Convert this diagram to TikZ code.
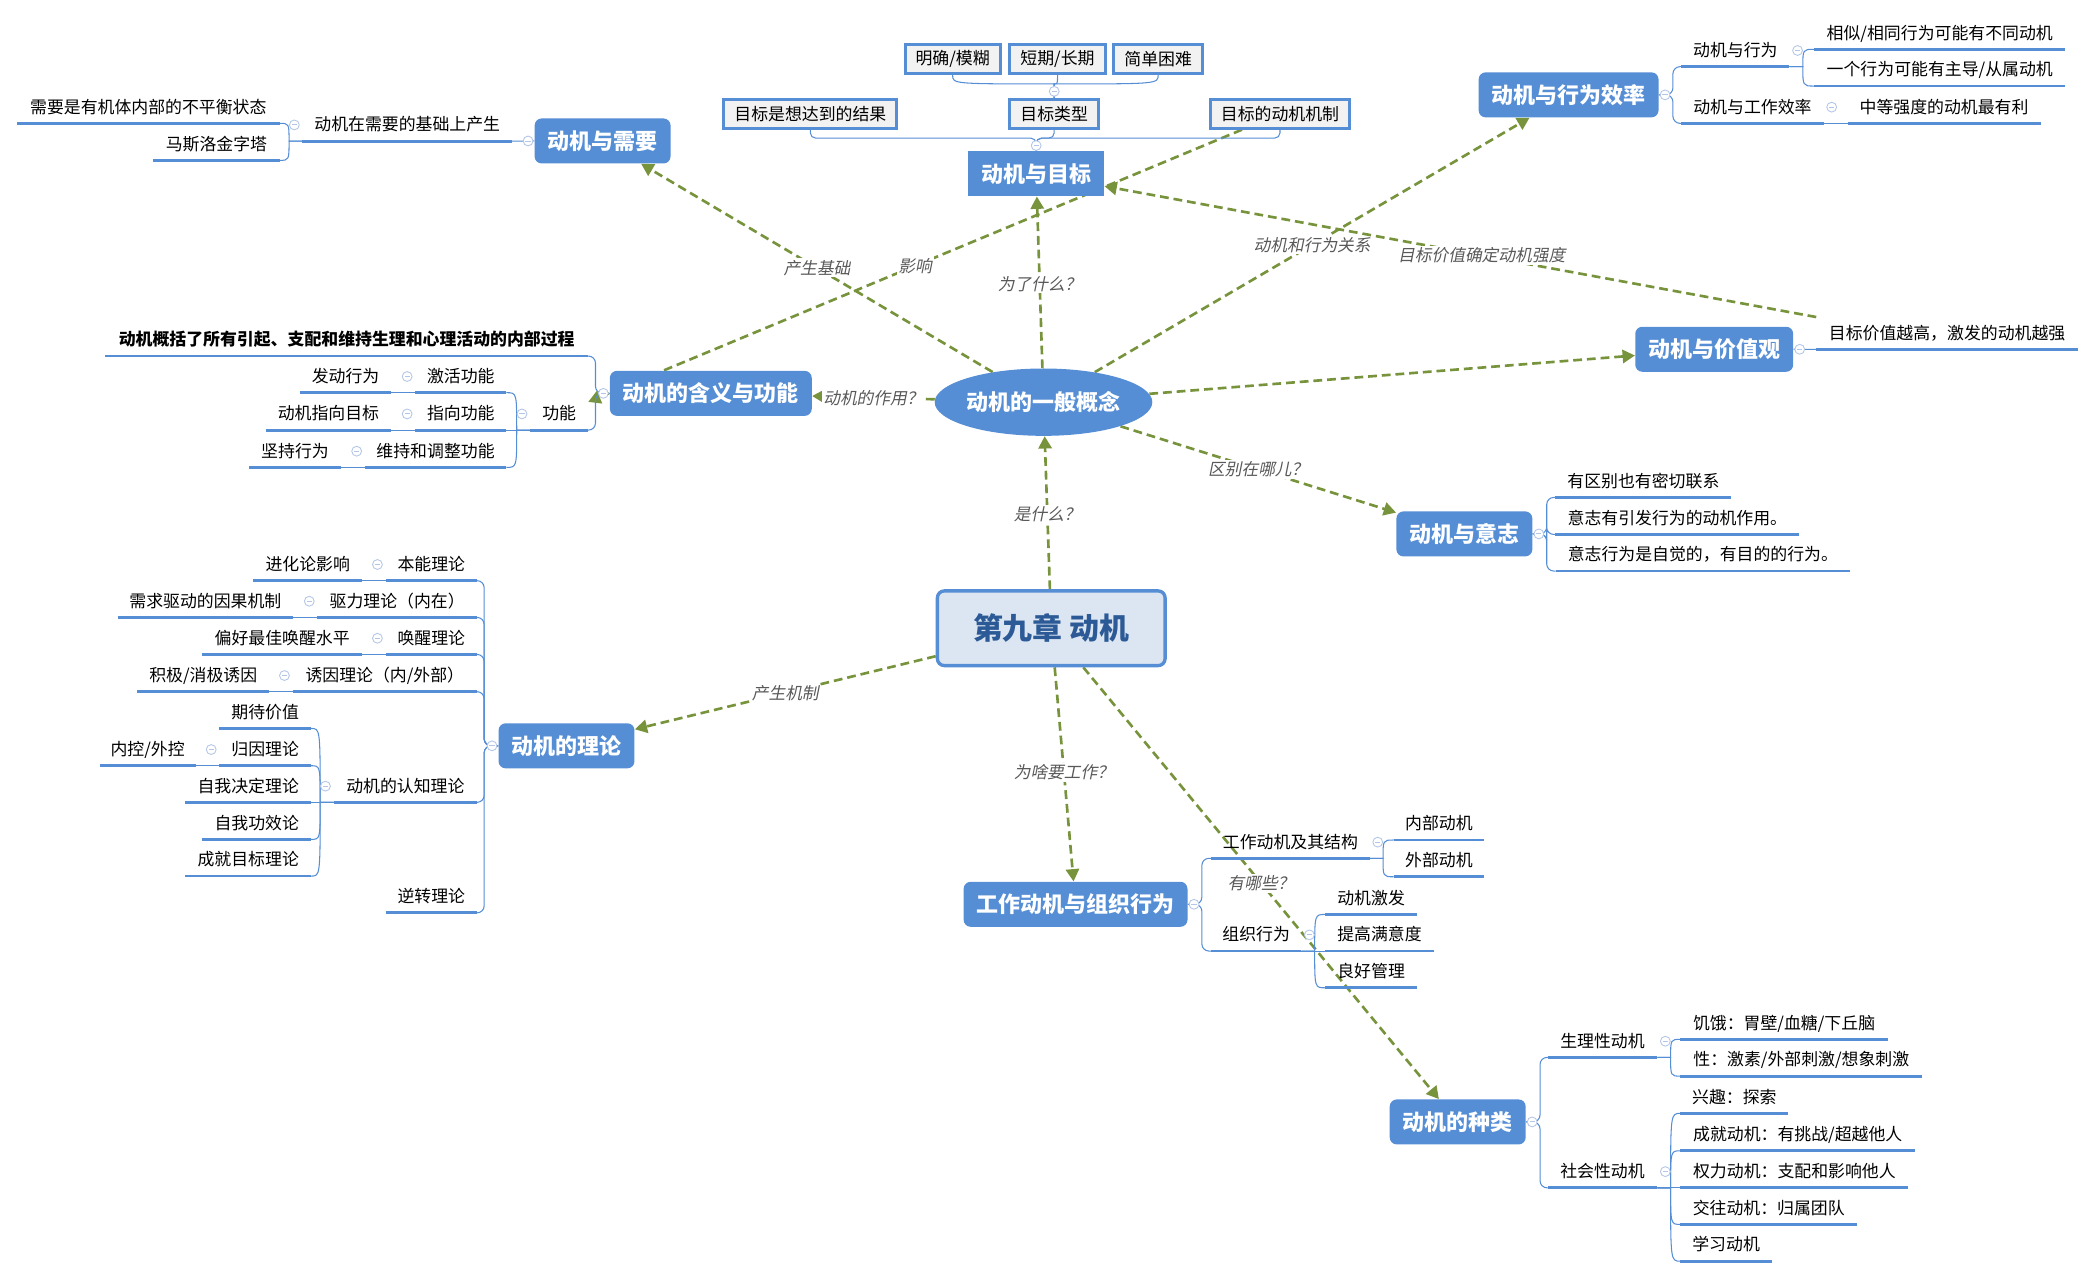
\documentclass[tikz,border=0pt]{standalone}
\usepackage{fontspec}
\setmainfont{Noto Sans CJK SC}
\newfontfamily\lblfont[FakeSlant=0.2]{Noto Sans CJK SC}
\usepackage{tikz}
\usetikzlibrary{arrows.meta,shapes.geometric,backgrounds}
\definecolor{topicblue}{HTML}{558ED5}
\definecolor{titlefill}{HTML}{DCE6F2}
\definecolor{titletext}{HTML}{2C5A96}
\definecolor{linkgreen}{HTML}{77933C}
\definecolor{lblgray}{HTML}{595959}
\definecolor{boxgray}{HTML}{F2F2F2}
\definecolor{foldblue}{HTML}{B4C6E7}
\tikzset{
  rootbox/.style = {rectangle,rounded corners=4pt,draw=topicblue,line width=1.9pt,fill=titlefill,
                    text=titletext,font=\fontsize{17}{20}\selectfont\bfseries,
                    minimum width=129.5pt,minimum height=42.5pt},
  genell/.style  = {ellipse,fill=topicblue,text=white,font=\fontsize{12.5}{15}\selectfont\bfseries,
                    minimum width=109pt,minimum height=38.3pt,inner sep=0pt},
  topic/.style   = {rectangle,rounded corners=4pt,fill=topicblue,text=white,
                    font=\fontsize{12.5}{15}\selectfont\bfseries,
                    minimum height=25.6pt,inner xsep=7.4pt,inner ysep=2pt},
  tbox/.style    = {rectangle,draw=topicblue,line width=1.7pt,fill=boxgray,
                    font=\fontsize{9.6}{11}\selectfont,inner xsep=6pt,minimum height=16.3pt},
  uline/.style   = {draw=topicblue,line width=1.6pt},
  leaf/.style    = {anchor=south,inner xsep=0pt,inner ysep=4.4pt,text height=8pt,text depth=1.2pt,
                    font=\fontsize{9.6}{11}\selectfont,
                    append after command={(\tikzlastnode.south west) edge[uline] (\tikzlastnode.south east)}},
  ulw/.style     = {minimum width=#1*0.7597pt},
  twig/.style    = {draw=topicblue,line width=0.6pt},
  fold/.style    = {circle,draw=foldblue,fill=white,line width=0.5pt,minimum size=5.6pt,inner sep=0pt,
                    path picture={\draw[foldblue,line width=0.5pt]
                      ([xshift=-1.5pt]path picture bounding box.center) -- ([xshift=1.5pt]path picture bounding box.center);}},
  relarr/.style  = {draw=linkgreen,line width=1.5pt,dash pattern=on 5pt off 2.8pt,
                    -{Triangle[length=7pt,width=7.5pt]}},
  lbl/.style     = {font=\lblfont\fontsize{9.5}{11}\selectfont,text=lblgray,fill=white,inner sep=1pt}
}

\begin{document}
\begin{tikzpicture}[x=0.0267cm,y=-0.0267cm]
  \useasboundingbox (0,0) rectangle (1568,957);
  % centre
  \node[rootbox] (root) at (786.8,470.2) {第九章 动机};
  \node[genell]  (gen)  at (781,301) {动机的一般概念};
  % main topics
  \node[topic] (need)   at (451,105.5) {动机与需要};
  \node[topic,sharp corners] (goal) at (775.5,130) {动机与目标};
  \node[topic] (eff)    at (1174,71) {动机与行为效率};
  \node[topic] (mean)   at (532,294.4) {动机的含义与功能};
  \node[topic] (value)  at (1283,261.4) {动机与价值观};
  \node[topic] (will)   at (1096,399.6) {动机与意志};
  \node[topic] (theory) at (424,558.2) {动机的理论};
  \node[topic] (work)   at (805,676.8) {工作动机与组织行为};
  \node[topic] (kind)   at (1091,839.7) {动机的种类};
  % goal boxes
  \node[tbox] (g1)  at (606.5,85.2) {目标是想达到的结果};
  \node[tbox] (g2)  at (789,85.2) {目标类型};
  \node[tbox] (g3)  at (958,85.2) {目标的动机机制};
  \node[tbox] (g21) at (713,44.3) {明确/模糊};
  \node[tbox] (g22) at (791.5,44.3) {短期/长期};
  \node[tbox] (g23) at (866.8,44.3) {简单困难};
  % need
  \node[leaf,ulw=156.4] (need1)  at (304.8,105.6) {动机在需要的基础上产生};
  \node[leaf,ulw=196]   (need11) at (111,92.3) {需要是有机体内部的不平衡状态};
  \node[leaf,ulw=94]    (need12) at (162,120) {马斯洛金字塔};
  % efficiency
  \node[leaf,ulw=80.5]  (eff1)  at (1298.8,49.9) {动机与行为};
  \node[leaf,ulw=187.5] (eff11) at (1451.8,36.9) {相似/相同行为可能有不同动机};
  \node[leaf,ulw=187.5] (eff12) at (1451.8,64.4) {一个行为可能有主导/从属动机};
  \node[leaf,ulw=106]   (eff2)  at (1311.6,92.3) {动机与工作效率};
  \node[leaf,ulw=144]   (eff21) at (1455,92.3) {中等强度的动机最有利};
  % meaning
  \node[leaf,ulw=361,font=\fontsize{9.6}{11}\selectfont\bfseries] (mean1) at (259.5,266.5)
    {动机概括了所有引起、支配和维持生理和心理活动的内部过程};
  \node[leaf,ulw=43]    (mean2)   at (418.5,321.9) {功能};
  \node[leaf,ulw=67.7]  (mean21)  at (344.9,293.9) {激活功能};
  \node[leaf,ulw=67.7]  (mean22)  at (344.9,321.9) {指向功能};
  \node[leaf,ulw=105.5] (mean23)  at (326,349.8) {维持和调整功能};
  \node[leaf,ulw=67.7]  (mean211) at (258.6,293.9) {发动行为};
  \node[leaf,ulw=93.2]  (mean221) at (245.8,321.9) {动机指向目标};
  \node[leaf,ulw=67.7]  (mean231) at (220.8,349.8) {坚持行为};
  % value, will
  \node[leaf,ulw=195.4] (value1) at (1457.3,261.5) {目标价值越高，激发的动机越强};
  \node[leaf,ulw=131.3] (will1)  at (1230,372.3) {有区别也有密切联系};
  \node[leaf,ulw=181.9] (will2)  at (1255.4,400) {意志有引发行为的动机作用。};
  \node[leaf,ulw=220.1] (will3)  at (1274.5,427.4) {意志行为是自觉的，有目的的行为。};
  % theory
  \node[leaf,ulw=68]    (th1)   at (322.8,434.6) {本能理论};
  \node[leaf,ulw=81]    (th11)  at (230.3,434.6) {进化论影响};
  \node[leaf,ulw=119]   (th2)   at (297.3,462.1) {驱力理论（内在）};
  \node[leaf,ulw=131]   (th21)  at (153.7,462.1) {需求驱动的因果机制};
  \node[leaf,ulw=68]    (th3)   at (322.8,489.8) {唤醒理论};
  \node[leaf,ulw=119]   (th31)  at (211.2,489.8) {偏好最佳唤醒水平};
  \node[leaf,ulw=137.6] (th4)   at (288,517.7) {诱因理论（内/外部）};
  \node[leaf,ulw=98.4]  (th41)  at (152.1,517.7) {积极/消极诱因};
  \node[leaf,ulw=107]   (th5)   at (303.4,600.5) {动机的认知理论};
  \node[leaf,ulw=68.2]  (th51)  at (198.5,545.2) {期待价值};
  \node[leaf,ulw=68.2]  (th52)  at (198.5,573.1) {归因理论};
  \node[leaf,ulw=71.3]  (th521) at (110.5,573.1) {内控/外控};
  \node[leaf,ulw=93.6]  (th53)  at (185.8,600.5) {自我决定理论};
  \node[leaf,ulw=80.8]  (th54)  at (192.2,628.2) {自我功效论};
  \node[leaf,ulw=93.6]  (th55)  at (185.8,655.7) {成就目标理论};
  \node[leaf,ulw=68]    (th6)   at (322.8,683.2) {逆转理论};
  % work
  \node[leaf,ulw=118.1] (wk1)  at (965.8,642.4) {工作动机及其结构};
  \node[leaf,ulw=67.4]  (wk11) at (1077,628.7) {内部动机};
  \node[leaf,ulw=67.4]  (wk12) at (1077,656.2) {外部动机};
  \node[leaf,ulw=67]    (wk2)  at (940.2,711.8) {组织行为};
  \node[leaf,ulw=68.2]  (wk21) at (1026.2,684.4) {动机激发};
  \node[leaf,ulw=80.8]  (wk22) at (1032.5,711.8) {提高满意度};
  \node[leaf,ulw=68.2]  (wk23) at (1026.2,739.3) {良好管理};
  % kinds
  \node[leaf,ulw=81.4]  (kd1)  at (1199.4,791.4) {生理性动机};
  \node[leaf,ulw=154.7] (kd11) at (1335.3,777.9) {饥饿：胃壁/血糖/下丘脑};
  \node[leaf,ulw=180.5] (kd12) at (1348.2,805.4) {性：激素/外部刺激/想象刺激};
  \node[leaf,ulw=81.4]  (kd2)  at (1199.4,889) {社会性动机};
  \node[leaf,ulw=80.4]  (kd21) at (1298.1,833.3) {兴趣：探索};
  \node[leaf,ulw=175.2] (kd22) at (1345.5,861.3) {成就动机：有挑战/超越他人};
  \node[leaf,ulw=170.2] (kd23) at (1343,889) {权力动机：支配和影响他人};
  \node[leaf,ulw=131.7] (kd24) at (1323.8,916.4) {交往动机：归属团队};
  \node[leaf,ulw=68]    (kd25) at (1291.9,943.9) {学习动机};

  % brackets
  \draw[twig] (need.west) -- (need1.south east);
  \draw[twig] (value.east) -- (value1.south west);
  \foreach \hub/\kids in {mean/{mean1,mean2},theory/{th1,th2,th3,th4,th5,th6}}
    \foreach \kid in \kids
      \draw[twig,rounded corners=4pt] (\hub.west) -- ++(-10.5,0) |- (\kid.south east);
  \foreach \hub/\kids in {eff/{eff1,eff2},will/{will1,will2,will3},work/{wk1,wk2},kind/{kd1,kd2}}
    \foreach \kid in \kids
      \draw[twig,rounded corners=4pt] (\hub.east) -- ++(10.5,0) |- (\kid.south west);
  \foreach \kid in {g1,g2,g3}
    \draw[twig,rounded corners=3pt] (goal.north) -- ++(0,-9.5) -| (\kid.south);
  \coordinate (g2-j) at ([yshift=8pt]g2.north);
  \foreach \kid in {g21,g22,g23}
    \draw[twig] (g2.north) -- (g2-j) .. controls (g2-j -| \kid.south) .. (\kid.south);
  \foreach \hub/\kids in {need1/{need11,need12},mean2/{mean21,mean22,mean23},mean21/{mean211},
      mean22/{mean221},mean23/{mean231},th1/{th11},th2/{th21},th3/{th31},th4/{th41},
      th5/{th51,th52,th53,th54,th55},th52/{th521}}{
    \coordinate (\hub-j) at ([xshift=-7.6pt]\hub.south west);
    \foreach \kid in \kids
      \draw[twig] (\hub.south west) -- (\hub-j) .. controls (\hub-j |- \kid.south east) .. (\kid.south east);
  }
  \foreach \hub/\kids in {eff1/{eff11,eff12},eff2/{eff21},wk1/{wk11,wk12},wk2/{wk21,wk22,wk23},
      kd1/{kd11,kd12},kd2/{kd21,kd22,kd23,kd24,kd25}}{
    \coordinate (\hub-j) at ([xshift=7.6pt]\hub.south east);
    \foreach \kid in \kids
      \draw[twig] (\hub.south east) -- (\hub-j) .. controls (\hub-j |- \kid.south west) .. (\kid.south west);
  }

  % fold marks
  \foreach \hub in {need,mean,theory}
    \node[fold] (\hub-f) at ([xshift=-3.5pt]\hub.west) {};
  \foreach \hub in {eff,value,will,work,kind}
    \node[fold] (\hub-f) at ([xshift=3.5pt]\hub.east) {};
  \node[fold] (goal-f) at ([yshift=3pt]goal.north) {};
  \node[fold] (g2-f) at ([yshift=3.8pt]g2.north) {};
  \foreach \hub in {need1,mean2,mean21,mean22,mean23,th1,th2,th3,th4,th5,th52}
    \node[fold] (\hub-f) at ([xshift=-4.6pt]\hub.west) {};
  \foreach \hub in {eff1,eff2,wk1,wk2,kd1,kd2}
    \node[fold] (\hub-f) at ([xshift=4.6pt]\hub.east) {};

  % relations
  \begin{pgfonlayer}{background}
    \draw[relarr] (root) -- node[lbl,pos=0.49] {是什么？} (gen);
    \draw[relarr] (gen) -- node[lbl] {产生基础} (need);
    \draw[relarr] (gen) -- node[lbl] {动机的作用？} (mean);
    \draw[relarr] (gen) -- node[lbl,pos=0.49] {为了什么？} (goal);
    \draw[relarr] (gen) -- node[lbl] {动机和行为关系} (eff);
    \draw[relarr] (gen) -- (value);
    \draw[relarr] (gen) -- node[lbl] {区别在哪儿？} (will);
    \draw[relarr] (g3) -- node[lbl] {影响} (mean2);
    \draw[relarr] (value1.north west) -- node[lbl,pos=0.47] {目标价值确定动机强度} (goal);
    \draw[relarr] (root) -- node[lbl] {产生机制} (theory);
    \draw[relarr] (root) -- node[lbl,pos=0.49] {为啥要工作？} (work);
    \draw[relarr] (root) -- node[lbl] {有哪些？} (kind);
  \end{pgfonlayer}
\end{tikzpicture}
\end{document}
